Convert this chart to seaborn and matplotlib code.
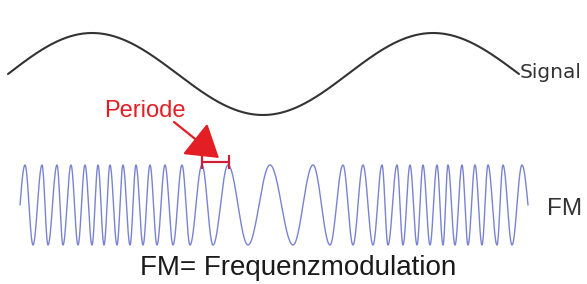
import numpy as np
import pandas as pd
import matplotlib
matplotlib.use("Agg")
import matplotlib.pyplot as plt
import seaborn as sns

# ---- data (pixel coordinates of the drawing) ----
# Modulating signal: x of start (zero crossing), peak, trough, peak, end
signal_x = [8, 92, 263, 433, 519]
signal_quarter_turns = [0, 1, 3, 5, 6]      # phase in units of pi/2
signal_mid, signal_amp = 74, 41

# FM carrier: x positions of start, alternating peaks / troughs, end
fm_start, fm_end = 20, 528
fm_peaks = [25, 42, 57, 71, 85, 98, 110, 123, 136, 150, 165, 182, 202, 228,
            270, 313, 343, 363, 382, 397, 410, 423, 437, 448, 462, 475, 488,
            503, 522]
fm_troughs = [33, 48, 63, 78, 92, 104, 117, 130, 143, 157, 173, 190, 213, 248,
              293, 330, 353, 373, 388, 403, 417, 430, 443, 455, 468, 482, 497,
              512]
fm_mid, fm_amp = 205, 40

# "Periode" marker: one carrier period between two peaks
periode_x = [202, 229]
periode_y = 162

title = "FM= Frequenzmodulation"
label_signal = "Signal"
label_fm = "FM"
label_periode = "Periode"

# ---- build curves ----
sns.set_theme(style="white")
plt.rcParams["font.family"] = ["Liberation Sans", "DejaVu Sans"]

xs = np.linspace(signal_x[0], signal_x[-1], 800)
ph = np.interp(xs, signal_x, np.array(signal_quarter_turns) * np.pi / 2)
sig = pd.DataFrame({"x": xs, "y": signal_mid - signal_amp * np.sin(ph)})

ext_x = sorted(fm_peaks + fm_troughs)
ext_x = [fm_start] + ext_x + [fm_end]
ext_ph = [-np.pi / 2] + [k * np.pi for k in range(len(ext_x) - 2)]
ext_ph = ext_ph + [ext_ph[-1] + np.pi / 2]
xf = np.linspace(fm_start, fm_end, 4000)
phf = np.interp(xf, ext_x, ext_ph)
fm = pd.DataFrame({"x": xf, "y": fm_mid - fm_amp * np.cos(phf)})

# ---- draw ----
W, H = 587, 284
fig = plt.figure(figsize=(W / 100, H / 100), dpi=100)
ax = fig.add_axes([0, 0, 1, 1])
ax.set_xlim(0, W)
ax.set_ylim(H, 0)
ax.axis("off")

sns.lineplot(data=sig, x="x", y="y", ax=ax, sort=False, estimator=None,
             color="#333333", linewidth=1.5)
sns.lineplot(data=fm, x="x", y="y", ax=ax, sort=False, estimator=None,
             color="#5864c4", linewidth=1.0, alpha=0.8)

red = "#e31e24"
bar = "#cc2038"
ax.plot(periode_x, [periode_y, periode_y], color=bar, lw=1.6,
        solid_capstyle="butt")
for px in periode_x:
    ax.plot([px, px], [periode_y - 7, periode_y + 7], color=bar, lw=1.6,
            solid_capstyle="butt")

ax.annotate("", xy=(219, 158), xytext=(174, 122),
            arrowprops=dict(arrowstyle="-|>,head_length=1.1,head_width=0.7",
                            color=red, lw=1.6, mutation_scale=18,
                            shrinkA=0, shrinkB=0))

ax.text(145, 117, label_periode, color=red, fontsize=17, ha="center",
        va="baseline")
ax.text(520, 78, label_signal, color="#333333", fontsize=14.5, ha="left",
        va="baseline", family=["DejaVu Sans"])
ax.text(547, 215, label_fm, color="#333333", fontsize=17.5, ha="left",
        va="baseline")
ax.text(298, 275, title, color="#1a1a1a", fontsize=20, ha="center",
        va="baseline")

fig.savefig("out.png", dpi=100, facecolor="white")
